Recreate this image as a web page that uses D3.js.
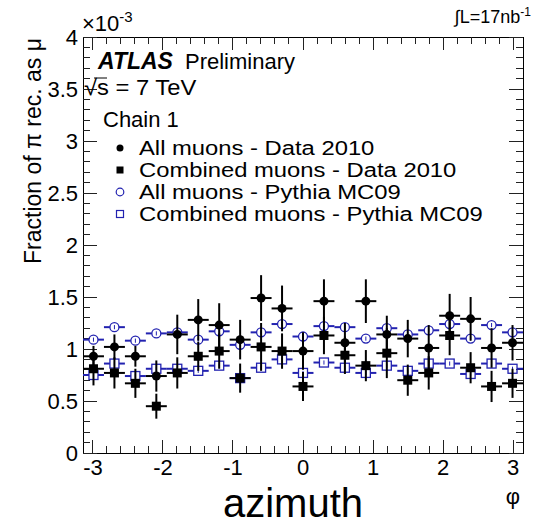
<!DOCTYPE html>
<html lang="en">
<head>
<meta charset="UTF-8">
<title>Fraction of pi rec. as mu vs azimuth</title>
<script src="https://d3js.org/d3.v7.min.js"></script>
<style>
    body { margin: 0; background: #fff; }
    text { font-family: "Liberation Sans", Arial, sans-serif; fill: #000; }
</style>
</head>
<body>
<div id="chart"></div>
<script>
    const width = 534;
    const height = 524;

    // 21 bins in phi from -pi to pi
    const nBins = 21;
    const phiEdges = d3.range(nBins + 1).map(i => -Math.PI + i * 2 * Math.PI / nBins);

    // values in units of 1e-3
    const allData = [0.93, 1.02, 0.93, 0.74, 1.14, 1.28, 1.23, 1.09, 1.49, 1.39, 0.98,
                     1.46, 1.06, 1.46, 1.14, 1.10, 1.01, 1.32, 1.29, 1.01, 1.06];
    const allDataErr = [0.10, 0.12, 0.10, 0.15, 0.19, 0.20, 0.21, 0.19, 0.22, 0.22, 0.18,
                        0.21, 0.19, 0.21, 0.18, 0.18, 0.22, 0.21, 0.21, 0.19, 0.17];
    const combData = [0.81, 0.77, 0.67, 0.45, 0.77, 0.93, 0.98, 0.72, 1.02, 0.98, 0.64,
                      1.13, 0.94, 0.84, 0.96, 0.70, 0.77, 1.13, 0.82, 0.64, 0.67];
    const combDataErr = [0.16, 0.15, 0.14, 0.12, 0.15, 0.14, 0.17, 0.14, 0.23, 0.17, 0.14,
                         0.18, 0.18, 0.15, 0.24, 0.15, 0.16, 0.19, 0.15, 0.15, 0.14];
    const allMC = [1.09, 1.21, 1.08, 1.15, 1.16, 1.09, 1.17, 1.04, 1.16, 1.24, 1.12,
                   1.22, 1.21, 1.10, 1.20, 1.14, 1.18, 1.24, 1.10, 1.23, 1.16];
    const combMC = [0.75, 0.86, 0.74, 0.81, 0.81, 0.79, 0.84, 0.72, 0.82, 0.90, 0.77,
                    0.87, 0.82, 0.77, 0.84, 0.79, 0.86, 0.86, 0.76, 0.86, 0.81];
    const mcErr = 0.02;

    const legendLabels = ["All muons - Data 2010", "Combined muons - Data 2010",
                          "All muons - Pythia MC09", "Combined muons - Pythia MC09"];
    const xTicks = [-3, -2, -1, 0, 1, 2, 3];
    const yTicks = [0, 0.5, 1, 1.5, 2, 2.5, 3, 3.5, 4];

    const pLeft = 83, pRight = 523, pTop = 37, pBottom = 453;
    const blue = "#2222b0";

    const svg = d3.select("#chart").append("svg")
        .attr("width", width)
        .attr("height", height);

    const x = d3.scaleLinear().domain([-Math.PI, Math.PI]).range([pLeft, pRight]);
    const y = d3.scaleLinear().domain([0, 4]).range([pBottom, pTop]);

    // frame
    svg.append("rect")
        .attr("x", pLeft).attr("y", pTop)
        .attr("width", pRight - pLeft).attr("height", pBottom - pTop)
        .attr("fill", "none").attr("stroke", "#000").attr("stroke-width", 1)
        .attr("shape-rendering", "crispEdges");

    const ticks = svg.append("g")
        .attr("stroke", "#222").attr("stroke-width", 1)
        .attr("shape-rendering", "crispEdges");

    // y ticks (left + right)
    d3.range(0, 40.5, 1).forEach(i => {
        const v = i / 10;
        const len = i % 5 === 0 ? 14 : 7;
        ticks.append("line").attr("x1", pLeft).attr("x2", pLeft + len)
            .attr("y1", y(v)).attr("y2", y(v));
        ticks.append("line").attr("x1", pRight).attr("x2", pRight - len)
            .attr("y1", y(v)).attr("y2", y(v));
    });
    // x ticks (bottom + top)
    d3.range(-15, 15.5, 1).forEach(i => {
        const v = i / 5;
        const len = i % 5 === 0 ? 13 : 7;
        ticks.append("line").attr("x1", x(v)).attr("x2", x(v))
            .attr("y1", pBottom).attr("y2", pBottom - len);
        ticks.append("line").attr("x1", x(v)).attr("x2", x(v))
            .attr("y1", pTop).attr("y2", pTop + len);
    });

    // tick labels
    svg.append("g").selectAll("text")
        .data(yTicks).enter().append("text")
        .attr("x", 78).attr("y", d => y(d))
        .attr("dy", "0.35em")
        .attr("text-anchor", "end")
        .attr("font-size", 22)
        .text(d => d);

    svg.append("g").selectAll("text")
        .data(xTicks).enter().append("text")
        .attr("x", d => x(d)).attr("y", 475)
        .attr("text-anchor", "middle")
        .attr("font-size", 22)
        .text(d => d);

    // exponent
    const expo = svg.append("text").attr("x", 82).attr("y", 31).attr("font-size", 22);
    expo.append("tspan").text("\u00d710");
    expo.append("tspan").attr("font-size", 15).attr("dy", -9).text("-3");

    // luminosity
    const lumi = svg.append("text").attr("x", 531).attr("y", 23)
        .attr("text-anchor", "end").attr("font-size", 18);
    lumi.append("tspan").text("\u222bL=17nb");
    lumi.append("tspan").attr("font-size", 12).attr("dy", -7).text("-1");

    // axis titles
    svg.append("text")
        .attr("x", 293).attr("y", 517)
        .attr("text-anchor", "middle")
        .attr("font-size", 40)
        .text("azimuth");
    svg.append("text")
        .attr("x", 513).attr("y", 504)
        .attr("text-anchor", "middle")
        .attr("font-size", 22)
        .text("\u03c6");
    svg.append("text")
        .attr("transform", "translate(41,38) rotate(-90)")
        .attr("text-anchor", "end")
        .attr("font-size", 23)
        .text("Fraction of \u03c0 rec. as \u03bc");

    // labels inside the frame
    const atlas = svg.append("text").attr("x", 98).attr("y", 69).attr("font-size", 22);
    atlas.append("tspan").attr("font-weight", "bold").attr("font-style", "italic")
        .attr("font-size", 23).text("ATLAS");
    atlas.append("tspan").attr("dx", 12).text("Preliminary");

    svg.append("text")
        .attr("transform", "translate(84,95) scale(1.08,1)")
        .attr("font-size", 22)
        .text("\u221as = 7 TeV");
    svg.append("line")
        .attr("x1", 94).attr("x2", 107).attr("y1", 78).attr("y2", 78)
        .attr("stroke", "#000").attr("stroke-width", 1);

    svg.append("text").attr("x", 103).attr("y", 127).attr("font-size", 22).text("Chain 1");

    // data
    const bins = d3.range(nBins).map(i => ({
        lo: phiEdges[i], hi: phiEdges[i + 1], c: (phiEdges[i] + phiEdges[i + 1]) / 2,
        allData: allData[i], allDataErr: allDataErr[i],
        combData: combData[i], combDataErr: combDataErr[i],
        allMC: allMC[i], combMC: combMC[i]
    }));

    function drawMC(key, shape) {
        const g = svg.append("g");
        const r = 4.5;
        bins.forEach(b => {
            const cx = x(b.c), cy = y(b[key]);
            g.append("line").attr("x1", x(b.lo)).attr("x2", cx - r)
                .attr("y1", cy).attr("y2", cy)
                .attr("stroke", blue).attr("stroke-width", 2);
            g.append("line").attr("x1", cx + r).attr("x2", x(b.hi))
                .attr("y1", cy).attr("y2", cy)
                .attr("stroke", blue).attr("stroke-width", 2);
            g.append("line").attr("x1", cx).attr("x2", cx)
                .attr("y1", y(b[key] - mcErr)).attr("y2", y(b[key] + mcErr))
                .attr("stroke", blue).attr("stroke-width", 1);
            if (shape === "circle") {
                g.append("circle").attr("cx", cx).attr("cy", cy).attr("r", r)
                    .attr("fill", "none").attr("stroke", blue).attr("stroke-width", 1.3);
            } else {
                g.append("rect").attr("x", cx - r).attr("y", cy - r)
                    .attr("width", 2 * r).attr("height", 2 * r)
                    .attr("fill", "none").attr("stroke", blue).attr("stroke-width", 1.3);
            }
        });
    }

    function drawData(key, errKey, shape) {
        const g = svg.append("g");
        bins.forEach(b => {
            const cx = x(b.c), cy = y(b[key]);
            g.append("line").attr("x1", x(b.lo)).attr("x2", x(b.hi))
                .attr("y1", cy).attr("y2", cy)
                .attr("stroke", "#000").attr("stroke-width", 2);
            g.append("line").attr("x1", cx).attr("x2", cx)
                .attr("y1", y(b[key] - b[errKey])).attr("y2", y(b[key] + b[errKey]))
                .attr("stroke", "#000").attr("stroke-width", 2);
            if (shape === "circle") {
                g.append("circle").attr("cx", cx).attr("cy", cy).attr("r", 4.5).attr("fill", "#000");
            } else {
                g.append("rect").attr("x", cx - 4.5).attr("y", cy - 4.5)
                    .attr("width", 9).attr("height", 9).attr("fill", "#000");
            }
        });
    }

    drawMC("allMC", "circle");
    drawMC("combMC", "square");
    drawData("allData", "allDataErr", "circle");
    drawData("combData", "combDataErr", "square");

    // legend
    const legend = svg.append("g");
    const legY = [148, 170, 192, 214];
    legendLabels.forEach((lab, i) => {
        const cy = legY[i];
        if (i === 0) legend.append("circle").attr("cx", 120).attr("cy", cy).attr("r", 3.5).attr("fill", "#000");
        if (i === 1) legend.append("rect").attr("x", 116.5).attr("y", cy - 3.5).attr("width", 7).attr("height", 7).attr("fill", "#000");
        if (i === 2) legend.append("circle").attr("cx", 120).attr("cy", cy).attr("r", 3.8)
            .attr("fill", "none").attr("stroke", blue).attr("stroke-width", 1.2);
        if (i === 3) legend.append("rect").attr("x", 116.5).attr("y", cy - 3.5).attr("width", 7).attr("height", 7)
            .attr("fill", "none").attr("stroke", blue).attr("stroke-width", 1.2);
        legend.append("text")
            .attr("transform", `translate(139,${cy}) scale(1.19,1)`)
            .attr("dy", "0.36em")
            .attr("font-size", 20).text(lab);
    });
</script>
</body>
</html>
